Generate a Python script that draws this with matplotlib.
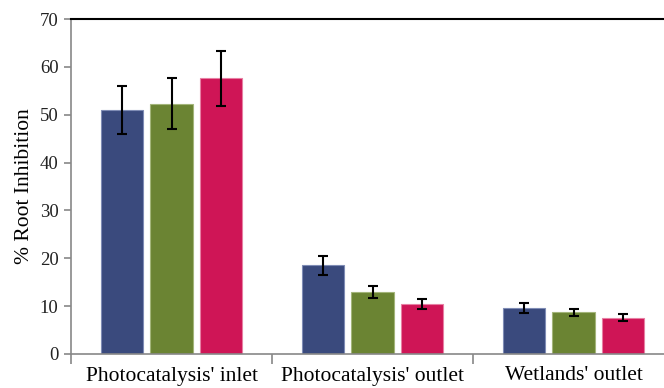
import matplotlib
matplotlib.use("Agg")
import matplotlib.pyplot as plt
import numpy as np

categories = ["Photocatalysis' inlet", "Photocatalysis' outlet", "Wetlands' outlet"]
series_blue = [51.0, 18.5, 9.6]
series_green = [52.3, 13.0, 8.7]
series_pink = [57.6, 10.5, 7.6]
err_blue = [5.0, 1.9, 1.0]
err_green = [5.3, 1.3, 0.8]
err_pink = [5.7, 1.0, 0.7]
yticks = [0, 10, 20, 30, 40, 50, 60, 70]

colors = ["#3A4A7D", "#6B8433", "#CF1556"]
edges = ["#7F8CB5", "#A3B57A", "#E77FA3"]

plt.rcParams['font.family'] = ['Liberation Serif', 'DejaVu Serif']

W, H = 664, 388
fig = plt.figure(figsize=(W / 100, H / 100), dpi=100)
left, right = 71, 674
top, bottom = 19, 354
ax = fig.add_axes([left / W, 1 - bottom / H, (right - left) / W, (bottom - top) / H])

x = np.arange(len(categories))
bw = 0.209
sp = 0.244
for i, (vals, errs) in enumerate([(series_blue, err_blue), (series_green, err_green), (series_pink, err_pink)]):
    ax.bar(x + (i - 1) * sp, vals, width=bw, color=colors[i], edgecolor=edges[i], linewidth=0.8,
           yerr=errs, error_kw=dict(ecolor='black', elinewidth=1.5, capsize=3.5, capthick=1.5), zorder=2)

ax.set_xlim(-0.5, 2.5)
ax.set_ylim(0, 70)
ax.set_yticks(yticks)
ax.set_yticklabels([str(t) for t in yticks], fontsize=13.5, color='#222222')
ax.set_xticks([-0.5, 0.5, 1.5, 2.5])
ax.set_xticklabels([])
ax.set_xticks(x, minor=True)
ax.set_xticklabels(categories, minor=True, fontsize=15.5)
ax.tick_params(axis='x', which='minor', length=0, pad=9)
ax.tick_params(axis='x', which='major', length=7, width=1.2, color='#888888', direction='out')
ax.tick_params(axis='y', length=5, width=1.2, color='#888888', direction='out', pad=4)
ax.set_ylabel("% Root Inhibition", fontsize=15.5, labelpad=4)

for s in ['left', 'bottom']:
    ax.spines[s].set_color('#888888')
    ax.spines[s].set_linewidth(1.2)
ax.spines['top'].set_color('black')
ax.spines['top'].set_linewidth(1.5)
ax.spines['right'].set_visible(False)

fig.savefig("out.png", dpi=100)
